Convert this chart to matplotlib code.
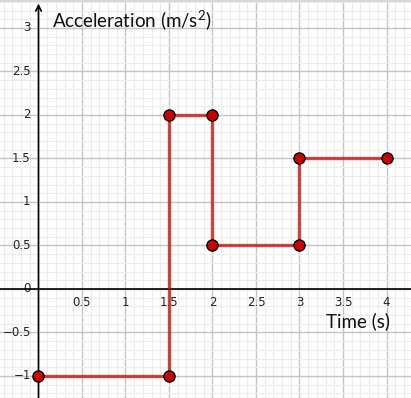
import matplotlib
matplotlib.use("Agg")
import matplotlib.pyplot as plt
import numpy as np
from matplotlib.ticker import MultipleLocator

plt.rcParams['mathtext.fontset'] = 'custom'
plt.rcParams['mathtext.rm'] = 'Lato'
plt.rcParams['mathtext.it'] = 'Lato:italic'

# Data
times = [0, 1.5, 1.5, 2, 2, 3, 3, 4]
accel = [-1, -1, 2, 2, 0.5, 0.5, 1.5, 1.5]
x_ticks = [0.5, 1, 1.5, 2, 2.5, 3, 3.5, 4]
y_ticks = [-1, -0.5, 0, 0.5, 1, 1.5, 2, 2.5, 3]
x_label = "Time (s)"
y_label = "Acceleration (m/s$\\mathregular{^2}$)"

fig = plt.figure(figsize=(4.11, 3.98), dpi=100)
ax = fig.add_axes([0, 0, 1, 1])
ax.set_xlim(-0.4425, 4.2816)
ax.set_ylim(-1.2529, 3.3218)

# grids
ax.xaxis.set_major_locator(MultipleLocator(0.5))
ax.yaxis.set_major_locator(MultipleLocator(0.5))
ax.xaxis.set_minor_locator(MultipleLocator(0.1))
ax.yaxis.set_minor_locator(MultipleLocator(0.1))
ax.grid(which='major', color='#c4c4c4', lw=1.0)
ax.grid(which='minor', color='#ececec', lw=0.8)
ax.set_axisbelow(True)
ax.tick_params(which='both', length=0, labelbottom=False, labelleft=False)
for s in ax.spines.values():
    s.set_visible(False)

# axes lines
ax.axhline(0, color='black', lw=1.2, zorder=2)
ax.annotate('', xy=(0, 3.28), xytext=(0, -1.26),
            arrowprops=dict(arrowstyle='->', lw=1.2, color='black',
                            shrinkA=0, shrinkB=0, mutation_scale=10), zorder=2)

# tick labels
fs = 8.5
for xv in x_ticks:
    ax.text(xv, -0.075, f"{xv:g}", ha='center', va='top', fontsize=fs, color='#222222', zorder=1)
for yv in y_ticks:
    lab = f"{yv:g}".replace('-', '\u2212')
    ax.text(-0.09, yv, lab, ha='right', va='center', fontsize=fs, color='#222222', zorder=1)

# axis labels
ax.text(0.16, 3.01, y_label, ha='left', va='baseline', fontsize=13.5, color='#111111', family='Lato')
ax.text(4.04, -0.44, x_label, ha='right', va='baseline', fontsize=13.5, color='#111111', family='Lato')

# data
ax.plot(times, accel, color='#cc0000', alpha=0.72, lw=2.4, zorder=3)
ax.plot(times, accel, 'o', markersize=8, markerfacecolor='#cc0000',
        markeredgecolor='black', markeredgewidth=1.0, zorder=4, clip_on=False)

# top border line
fig.add_artist(plt.Line2D([0, 1], [0.997, 0.997], color='#d8d8d8', lw=1.5, transform=fig.transFigure))

fig.savefig("out.png", dpi=100)
